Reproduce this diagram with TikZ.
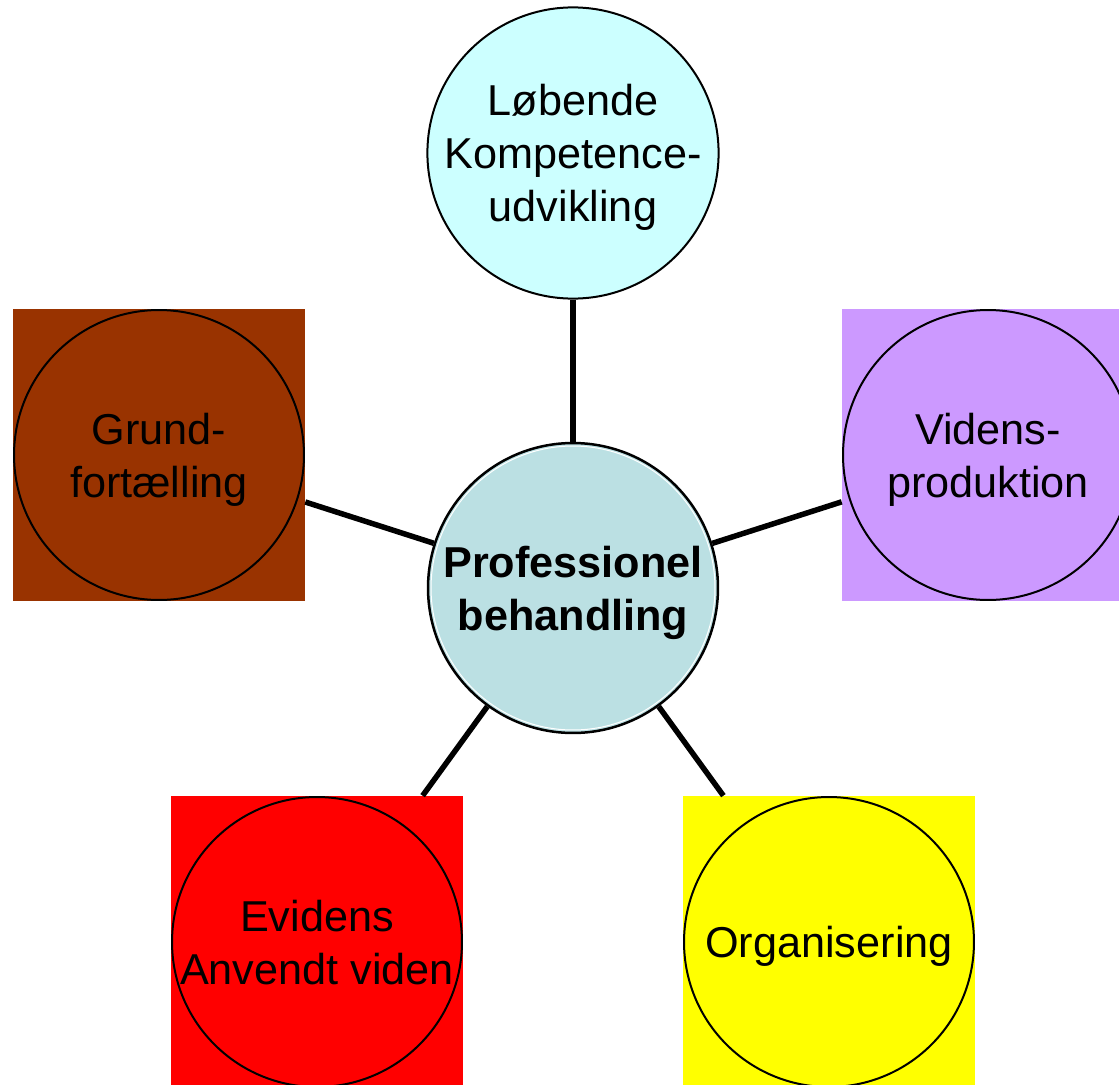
\documentclass[tikz,border=0pt]{standalone}
\usepackage{fontspec}
\setmainfont{Liberation Sans}
\usepackage{xcolor}

\definecolor{hubblue}{HTML}{BBE0E3}
\definecolor{lightcyan}{HTML}{CCFFFF}
\definecolor{rust}{HTML}{993300}
\definecolor{lilac}{HTML}{CC99FF}
\definecolor{signalred}{HTML}{FF0000}
\definecolor{lemon}{HTML}{FFFF00}

\begin{document}
\begin{tikzpicture}[x=0.02cm, y=-0.02cm,
    label text/.style={align=center, text depth=-1pt, font=\fontsize{24.6}{30}\selectfont},
    tile/.style={label text, rectangle, inner sep=0pt, minimum size=5.84cm,
        path picture={\draw[line width=0.04cm] (path picture bounding box.center) circle[radius=2.9cm];}},
    bubble/.style={label text, circle, draw, line width=0.04cm, inner sep=0pt, minimum size=5.8cm},
    link/.style={line width=0.11cm}]

        % Frame
        \clip (0,0) rectangle (1119,1085);

        % Centre
        \node[bubble, fill=hubblue, line width=0.05cm, font=\fontsize{24.6}{30}\selectfont\bfseries] (hub) at (573,588) {Professionel\\behandling};
        \draw[white, line width=0.02cm] (hub.center) circle[radius=2.84cm];

        % Outer topics
        \node[bubble, fill=lightcyan] (komp) at (573,153) {Løbende\\Kompetence-\\udvikling};
        \node[tile, fill=rust] (grund) at (159,455) {Grund-\\fortælling};
        \node[tile, fill=lilac] (viden) at (988,455) {Videns-\\produktion};
        \node[tile, fill=signalred] (evid) at (317,942) {Evidens\\Anvendt viden};
        \node[tile, fill=lemon] (org) at (829,942) {Organisering};

        % Spokes
        \draw[link] (komp) -- (hub);
        \draw[link] (grund) -- (hub);
        \draw[link] (viden) -- (hub);
        \draw[link] (evid) -- (hub);
        \draw[link] (org) -- (hub);

    \end{tikzpicture}
\end{document}
